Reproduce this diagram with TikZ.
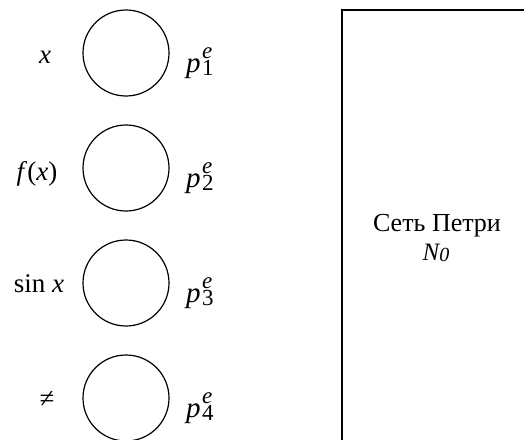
\documentclass[tikz,border=0pt]{standalone}
\usepackage{fontspec}
\setmainfont{Liberation Serif}
\newcommand{\pelabel}[1]{\textit{p}\kern1.5pt\rlap{\raisebox{14pt}{\fontsize{23}{24}\selectfont\textit{e}}}\raisebox{-3pt}{\fontsize{23}{24}\selectfont #1}}
\begin{document}
\begin{tikzpicture}[x=1pt,y=-1pt,
  place/.style={circle,draw,line width=1.2pt,minimum size=86pt,inner sep=0pt},
  lbl/.style={anchor=base,inner sep=0pt,font=\fontsize{27}{32}\selectfont},
  netbox/.style={draw,line width=1.6pt}]
\path[use as bounding box] (0,0) rectangle (524,439);
\clip (0,0) rectangle (524,439);
\foreach \i/\y in {1/53,2/168,3/283,4/398}{
  \node[place] (c\i) at (126,\y) {};
}
\node[lbl] (l1) at (45,63) {\textit{x}};
\node[lbl] (l2) at (37,180) {\textit{f}(\textit{x})};
\node[lbl] (l3) at (39,292) {sin \textit{x}};
\node[lbl] (l4) at (47,407) {≠};
\node[lbl,anchor=base west,font=\fontsize{29}{32}\selectfont] (p1) at (186,72) {\pelabel{1}};
\node[lbl,anchor=base west,font=\fontsize{29}{32}\selectfont] (p2) at (186,187) {\pelabel{2}};
\node[lbl,anchor=base west,font=\fontsize{29}{32}\selectfont] (p3) at (186,302) {\pelabel{3}};
\node[lbl,anchor=base west,font=\fontsize{29}{32}\selectfont] (p4) at (186,417) {\pelabel{4}};
\draw[netbox] (342,10) rectangle (600,480);
\node[lbl,font=\fontsize{26}{30}\selectfont] (net) at (437,231) {Сеть Петри};
\node[lbl,font=\fontsize{25}{28}\selectfont\itshape] (n0) at (436,260) {N\raisebox{-1pt}{\fontsize{20}{22}\selectfont 0}};
\end{tikzpicture}
\end{document}
